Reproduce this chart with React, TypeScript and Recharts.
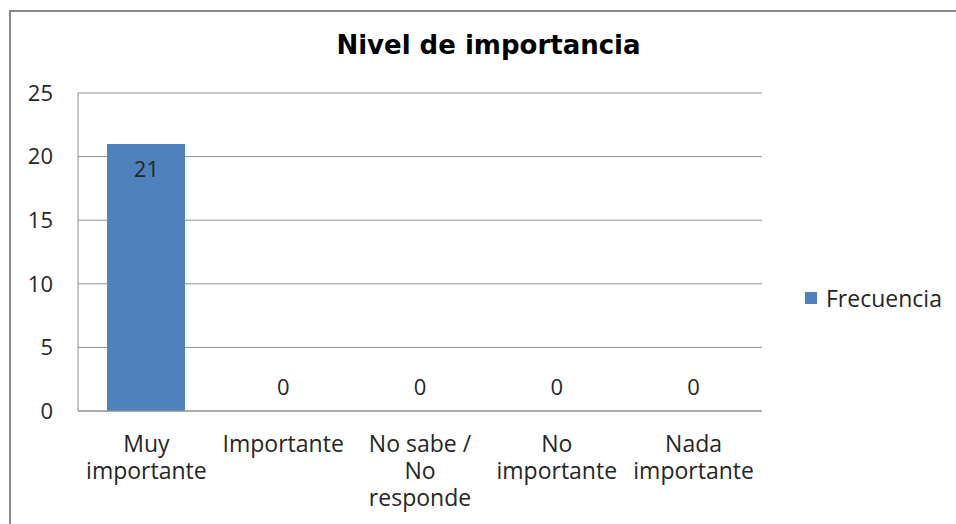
import { ComposedChart, Bar, Line, XAxis, YAxis, CartesianGrid, Legend, LabelList } from "recharts";

const categories = ["Muy importante", "Importante", "No sabe / No responde", "No importante", "Nada importante"];
// how each category label wraps under the axis
const tickLines = [["Muy", "importante"], ["Importante"], ["No sabe /", "No", "responde"], ["No", "importante"], ["Nada", "importante"]];
const frecuencia = [21, 0, 0, 0, 0];
const yTicks = [0, 5, 10, 15, 20, 25];

const data = categories.map((name, i) => ({ name, frecuencia: frecuencia[i] }));

const FONT = "'Open Sans', sans-serif";
const TEXT = "#262626";
const BAR = "#4F81BD";
const GRID = "#8e8e8e";

const CategoryTick = (props: any) => {
  const { x, y, payload } = props;
  const lines = tickLines[categories.indexOf(payload.value)] || [payload.value];
  return (
    <text x={x} y={y + 41} textAnchor="middle" fill={TEXT} fontSize={23} fontFamily={FONT}>
      {lines.map((line, i) => (
        <tspan key={i} x={x} dy={i === 0 ? 0 : 27}>
          {line}
        </tspan>
      ))}
    </text>
  );
};

// value labels sit on the category centre: inside the top of a bar,
// just above the axis when the bar is empty
const ValueLabel = (props: any) => {
  const { x, y, value } = props;
  const v = Number(value);
  const ty = v > 0 ? Number(y) + 33 : Number(y) - 16;
  return (
    <text x={Number(x)} y={ty} textAnchor="middle" fill={TEXT} fontSize={22} fontFamily={FONT}>
      {value}
    </text>
  );
};

const LegendBox = (props: any) => {
  const item = (props.payload || []).find((p: any) => p.type !== "none");
  return (
    <div style={{ display: "flex", alignItems: "center", fontFamily: FONT, fontSize: 23, lineHeight: "28px", color: TEXT }}>
      <span style={{ display: "inline-block", width: 12, height: 12, background: BAR, marginRight: 9 }} />
      {item ? item.value : "Frecuencia"}
    </div>
  );
};

export default function App() {
  return (
    <div style={{ position: "fixed", left: 0, top: 0, width: 956, height: 524, overflow: "hidden", background: "#fff" }}>
      <div style={{ position: "absolute", left: 9, top: 10, width: 1000, height: 1000, border: "2px solid #898989" }} />
      <div
        style={{
          position: "absolute",
          left: 0,
          top: 32,
          width: 977,
          textAlign: "center",
          fontFamily: "'DejaVu Sans', sans-serif",
          fontWeight: "bold",
          fontSize: 26,
          lineHeight: "26px",
          color: "#000",
        }}
      >
        Nivel de importancia
      </div>
      <div style={{ position: "absolute", left: 0, top: 0 }}>
        <ComposedChart width={956} height={524} data={data} margin={{ top: 93, right: 194, bottom: 53, left: 0 }}>
          <CartesianGrid vertical={false} stroke={GRID} />
          <XAxis
            dataKey="name"
            interval={0}
            height={60}
            tickLine={false}
            tickSize={0}
            tickMargin={0}
            axisLine={{ stroke: GRID }}
            tick={<CategoryTick />}
          />
          <YAxis
            width={78}
            domain={[0, 25]}
            ticks={yTicks}
            tickLine={false}
            tickSize={0}
            tickMargin={25}
            axisLine={{ stroke: GRID }}
            tick={{ fill: TEXT, fontSize: 22, fontFamily: FONT }}
          />
          <Legend
            layout="horizontal"
            verticalAlign="middle"
            align="center"
            content={<LegendBox />}
            wrapperStyle={{ left: 805, top: 284, width: "auto", height: "auto" }}
          />
          <Bar dataKey="frecuencia" name="Frecuencia" fill={BAR} barSize={78} isAnimationActive={false} />
          <Line
            dataKey="frecuencia"
            legendType="none"
            stroke="none"
            dot={false}
            activeDot={false}
            isAnimationActive={false}
          >
            <LabelList dataKey="frecuencia" content={<ValueLabel />} />
          </Line>
        </ComposedChart>
      </div>
    </div>
  );
}
